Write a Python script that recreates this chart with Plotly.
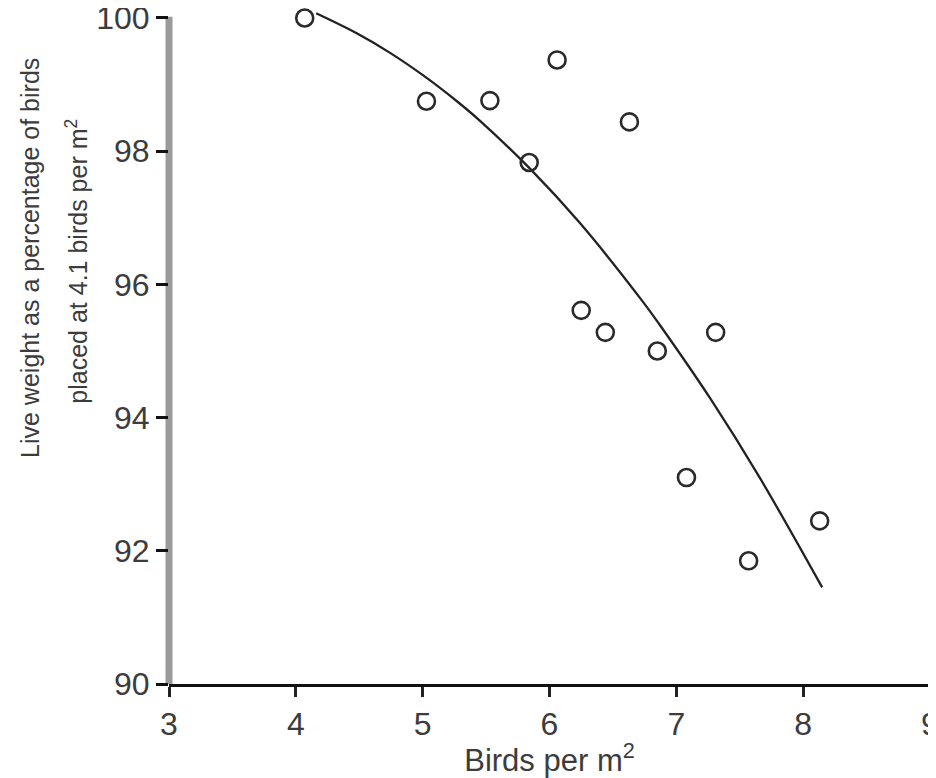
import plotly.graph_objects as go

# Observed data points (birds per m², live weight %)
density = [4.07, 5.03, 5.53, 5.84, 6.06, 6.25, 6.44, 6.63, 6.85, 7.08, 7.31, 7.57, 8.13]
live_weight_pct = [100.0, 98.75, 98.76, 97.83, 99.37, 95.61, 95.28, 98.44, 95.00, 93.10, 95.28, 91.85, 92.45]

# Fitted curve
fit_density = [4.16, 4.48, 4.74, 5.01, 5.27, 5.45, 5.85, 6.24, 6.74, 6.87, 7.27, 7.66, 8.15]
fit_weight = [100.07, 99.77, 99.48, 99.13, 98.75, 98.46, 97.73, 96.92, 95.73, 95.39, 94.28, 93.09, 91.45]

x_ticks = [3, 4, 5, 6, 7, 8, 9]
y_ticks = [90, 92, 94, 96, 98, 100]

FONT = "Liberation Sans, Arial, Helvetica, sans-serif"
TXT = "#3c3c3c"

fig = go.Figure()
fig.add_trace(go.Scatter(
    x=fit_density, y=fit_weight, mode="lines", line_shape="spline",
    line=dict(color="#222222", width=2.3), cliponaxis=False, showlegend=False,
    hoverinfo="skip"))
fig.add_trace(go.Scatter(
    x=density, y=live_weight_pct, mode="markers", cliponaxis=False, showlegend=False,
    marker=dict(symbol="circle-open", size=17, color="#2a2a2a", line=dict(width=2.6))))

# grey vertical axis bar
fig.add_shape(type="line", xref="paper", yref="y", x0=0.0, x1=0.0,
              y0=89.835, y1=100.02, line=dict(color="#9a9a9a", width=7), layer="below")

fig.update_xaxes(range=[3, 9], tickvals=x_ticks, ticktext=[str(v) for v in x_ticks],
                 showline=True, linecolor="#111111", linewidth=3, automargin=False,
                 ticks="outside", ticklen=10, tickwidth=3, tickcolor="#222222",
                 showgrid=False, zeroline=False, ticklabeloverflow="allow",
                 tickfont=dict(family=FONT, size=32, color=TXT),
                 title=dict(text="Birds per m<sup>2</sup>", standoff=10,
                            font=dict(family=FONT, size=31, color=TXT)))
fig.update_yaxes(range=[90, 100.15], tickvals=y_ticks, ticktext=[str(v) for v in y_ticks],
                 showline=False, ticks="outside", ticklen=12, tickwidth=3,
                 tickcolor="#111111", showgrid=False, zeroline=False, automargin=False,
                 ticklabeloverflow="allow",
                 tickfont=dict(family=FONT, size=32, color=TXT))

fig.add_annotation(text="Live weight as a percentage of birds", textangle=-90,
                   xref="paper", yref="paper", x=-0.182, y=0.631,
                   xanchor="center", yanchor="middle", showarrow=False,
                   font=dict(family=FONT, size=25, color=TXT))
fig.add_annotation(text="placed at 4.1 birds per m<sup>2</sup>", textangle=-90,
                   xref="paper", yref="paper", x=-0.122, y=0.625,
                   xanchor="center", yanchor="middle", showarrow=False,
                   font=dict(family=FONT, size=25, color=TXT))

# page body adds an 8px margin, so the figure is sized to fit the 936x778 window
fig.update_layout(width=928, height=770,
                  margin=dict(l=161, r=6, t=0, b=94, autoexpand=False),
                  paper_bgcolor="white", plot_bgcolor="white")

fig.write_html("out.html")
